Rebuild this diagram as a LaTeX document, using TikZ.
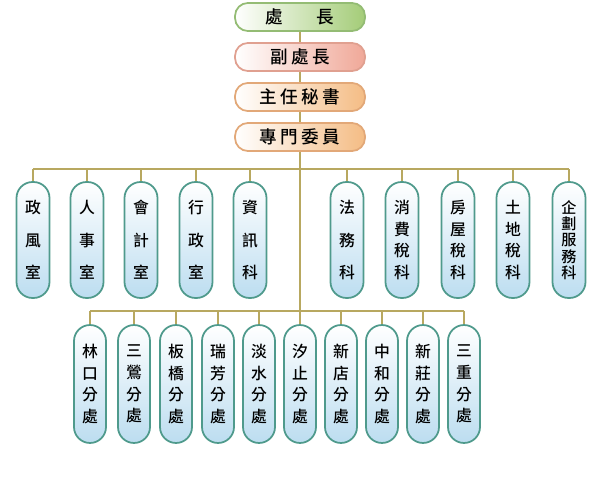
\documentclass[tikz,border=0pt]{standalone}
\usepackage{fontspec}
\newfontfamily\cjk{Noto Sans CJK TC Medium}
\newcommand{\tsp}{\hspace{2pt}}

\definecolor{trunk}{HTML}{B8A860}
\definecolor{unitedge}{HTML}{4F9A8C}
\definecolor{unitblue}{HTML}{BCDDF0}
\definecolor{chiefgreen}{HTML}{A4CC78}
\definecolor{chiefedge}{HTML}{94BC74}
\definecolor{deputypink}{HTML}{F0A898}
\definecolor{deputyedge}{HTML}{E0A090}
\definecolor{staffrange}{HTML}{F4BC84}
\definecolor{staffedge}{HTML}{E2A878}

\tikzset{
  busline/.style={draw=trunk, line width=1.6pt},
  headbox/.style={draw, line width=1pt, rectangle, rounded corners=0.26cm, minimum width=2.6cm, minimum height=0.52cm, left color=white, font=\cjk\fontsize{10}{11}\selectfont},
  unitbox/.style={draw=unitedge, line width=1pt, rectangle, rounded corners=0.32cm, top color=white, bottom color=unitblue, align=center, inner sep=0pt},
  dept/.style={unitbox, minimum width=0.66cm, minimum height=2.32cm},
  branch/.style={unitbox, minimum width=0.64cm, minimum height=2.36cm},
  three/.style={font=\cjk\fontsize{9}{18.5}\selectfont},
  four/.style={font=\cjk\fontsize{9}{12.4}\selectfont},
  five/.style={font=\cjk\fontsize{8.6}{9.3}\selectfont},
}

\begin{document}
\begin{tikzpicture}[x=0.02cm, y=-0.02cm]
  \useasboundingbox (0,0) rectangle (600,480);

  % Head offices
  \node[headbox, draw=chiefedge, right color=chiefgreen] (chief) at (300,17) {處\hspace{1.9em}長};
  \node[headbox, draw=deputyedge, right color=deputypink] (deputy) at (300,57) {副\tsp 處\tsp 長};
  \node[headbox, draw=staffedge, right color=staffrange] (secretary) at (300,97) {主\tsp 任\tsp 秘\tsp 書};
  \node[headbox, draw=staffedge, right color=staffrange] (expert) at (300,137) {專\tsp 門\tsp 委\tsp 員};
  \draw[busline] (chief) -- (deputy);
  \draw[busline] (deputy) -- (secretary);
  \draw[busline] (secretary) -- (expert);

  % Offices and sections
  \coordinate (bus1) at (300,169);
  \node[dept, three] (ethics) at (33,240) {政\\風\\室};
  \node[dept, three] (personnel) at (87,240) {人\\事\\室};
  \node[dept, three] (accounting) at (141,240) {會\\計\\室};
  \node[dept, three] (general) at (196,240) {行\\政\\室};
  \node[dept, three] (info) at (250,240) {資\\訊\\科};
  \node[dept, three] (legal) at (347,240) {法\\務\\科};
  \node[dept, four] (consume) at (402,240) {消\\費\\稅\\科};
  \node[dept, four] (house) at (458,240) {房\\屋\\稅\\科};
  \node[dept, four] (land) at (513,240) {土\\地\\稅\\科};
  \node[dept, five] (planning) at (569,240) {企\\劃\\服\\務\\科};
  \draw[busline] (ethics.north |- bus1) -- (planning.north |- bus1);
  \draw[busline] (ethics.north) -- (ethics.north |- bus1);
  \draw[busline] (personnel.north) -- (personnel.north |- bus1);
  \draw[busline] (accounting.north) -- (accounting.north |- bus1);
  \draw[busline] (general.north) -- (general.north |- bus1);
  \draw[busline] (info.north) -- (info.north |- bus1);
  \draw[busline] (legal.north) -- (legal.north |- bus1);
  \draw[busline] (consume.north) -- (consume.north |- bus1);
  \draw[busline] (house.north) -- (house.north |- bus1);
  \draw[busline] (land.north) -- (land.north |- bus1);
  \draw[busline] (planning.north) -- (planning.north |- bus1);

  % Branch offices
  \coordinate (bus2) at (300,311);
  \draw[busline] (expert) -- (bus2);
  \node[branch, four] (linkou) at (90,384) {林\\口\\分\\處};
  \node[branch, four] (sanying) at (134,384) {三\\鶯\\分\\處};
  \node[branch, four] (banqiao) at (176,384) {板\\橋\\分\\處};
  \node[branch, four] (ruifang) at (218,384) {瑞\\芳\\分\\處};
  \node[branch, four] (tamsui) at (259,384) {淡\\水\\分\\處};
  \node[branch, four] (xizhi) at (300,384) {汐\\止\\分\\處};
  \node[branch, four] (xindian) at (341,384) {新\\店\\分\\處};
  \node[branch, four] (zhonghe) at (382,384) {中\\和\\分\\處};
  \node[branch, four] (xinzhuang) at (423,384) {新\\莊\\分\\處};
  \node[branch, four] (sanchong) at (464,384) {三\\重\\分\\處};
  \draw[busline] (linkou.north |- bus2) -- (sanchong.north |- bus2);
  \draw[busline] (linkou.north) -- (linkou.north |- bus2);
  \draw[busline] (sanying.north) -- (sanying.north |- bus2);
  \draw[busline] (banqiao.north) -- (banqiao.north |- bus2);
  \draw[busline] (ruifang.north) -- (ruifang.north |- bus2);
  \draw[busline] (tamsui.north) -- (tamsui.north |- bus2);
  \draw[busline] (xizhi.north) -- (xizhi.north |- bus2);
  \draw[busline] (xindian.north) -- (xindian.north |- bus2);
  \draw[busline] (zhonghe.north) -- (zhonghe.north |- bus2);
  \draw[busline] (xinzhuang.north) -- (xinzhuang.north |- bus2);
  \draw[busline] (sanchong.north) -- (sanchong.north |- bus2);
\end{tikzpicture}
\end{document}
